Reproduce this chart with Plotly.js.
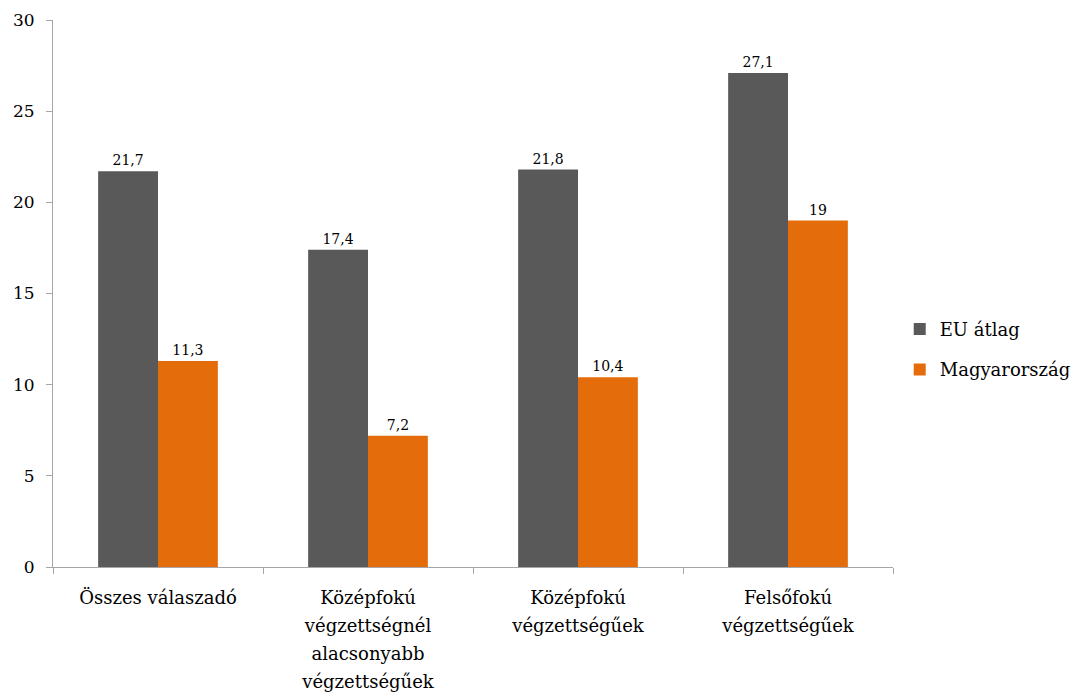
<!DOCTYPE html>
<html>
<head>
<meta charset="utf-8">
<script src="https://cdn.plot.ly/plotly-3.0.1.min.js"></script>
<style>html,body{margin:0;padding:0;background:#fff;}#chart{width:1075px;height:695px;}</style>
</head>
<body>
<div id="chart"></div>
<script>
const categories = [
  ["Összes válaszadó"],
  ["Középfokú", "végzettségnél", "alacsonyabb", "végzettségűek"],
  ["Középfokú", "végzettségűek"],
  ["Felsőfokú", "végzettségűek"]
];
const seriesNames = ["EU átlag", "Magyarország"];
const euValues = [21.7, 17.4, 21.8, 27.1];
const huValues = [11.3, 7.2, 10.4, 19];
const yTicks = [0, 5, 10, 15, 20, 25, 30];

const FONT = "DejaVu Serif";
const catIds = categories.map(c => c.join(" "));
const catText = categories.map(lines => lines.map(l => "<span style=\"font-size:18px\">" + l + "</span>").join("<br>"));

const common = {
  type: "bar",
  x: catIds,
  texttemplate: "%{y}",
  textposition: "outside",
  cliponaxis: false,
  textfont: {family: FONT, size: 14, color: "#000"},
  hoverinfo: "skip"
};

const traces = [
  Object.assign({}, common, {name: seriesNames[0], y: euValues, marker: {color: "#595959"}, legendgroup: "a"}),
  Object.assign({}, common, {name: seriesNames[1], y: huValues, marker: {color: "#E46C0A"}, legendgroup: "b"})
];

const layout = {
  width: 1075, height: 695,
  margin: {l: 53, r: 182, t: 20, b: 128, autoexpand: false},
  paper_bgcolor: "#fff", plot_bgcolor: "#fff",
  separators: ", ",
  font: {family: FONT, color: "#000"},
  barmode: "group",
  bargap: 0.43,
  bargroupgap: 0,
  showlegend: true,
  legend: {
    x: 1.008, xanchor: "left", y: 0.398, yanchor: "middle",
    font: {family: FONT, size: 18, color: "#000"},
    traceorder: "grouped", tracegroupgap: 14,
    bgcolor: "rgba(0,0,0,0)"
  },
  xaxis: {
    type: "category",
    tickvals: catIds, ticktext: catText,
    tickfont: {family: FONT, size: 21.5, color: "#000"},
    showline: true, linecolor: "#A6A6A6", linewidth: 1,
    ticks: "outside", tickson: "boundaries", ticklen: 6, tickcolor: "#A6A6A6",
    ticklabelstandoff: 10,
    showgrid: false, zeroline: false, fixedrange: true
  },
  yaxis: {
    range: [0, 30], tickvals: yTicks,
    tickfont: {family: FONT, size: 17, color: "#000"},
    showline: true, linecolor: "#A6A6A6", linewidth: 1,
    ticks: "outside", ticklen: 6, tickcolor: "#A6A6A6",
    ticklabelstandoff: 8,
    showgrid: false, zeroline: false, fixedrange: true
  }
};

Plotly.newPlot("chart", traces, layout, {displayModeBar: false, staticPlot: true});
</script>
</body>
</html>
